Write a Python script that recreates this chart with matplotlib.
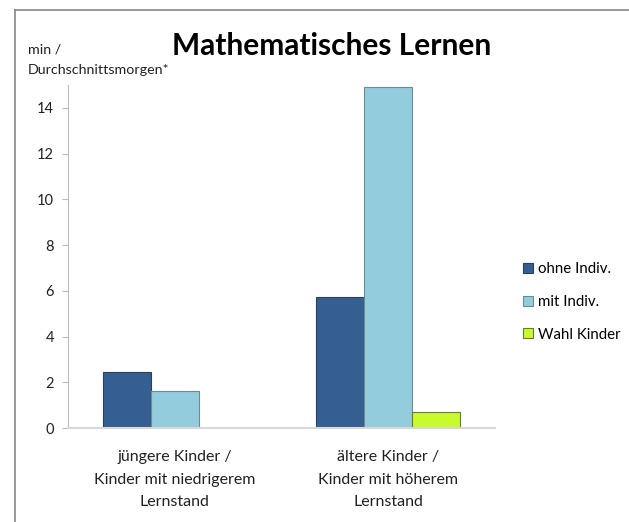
import numpy as np
from matplotlib import pyplot as plt
from matplotlib.lines import Line2D

categories = ['jüngere Kinder /\nKinder mit niedrigerem\nLernstand',
              'ältere Kinder /\nKinder mit höherem\nLernstand']
series = ['ohne Indiv.', 'mit Indiv.', 'Wahl Kinder']
ohne = [2.45, 5.75]
mit = [1.6, 14.9]
wahl = [0.0, 0.7]
colors = ['#365F91', '#93CDDD', '#C8FA2C']
edges = ['#2a3f5a', '#6b8a94', '#6e7a3a']

plt.rcParams['font.family'] = ['Lato', 'DejaVu Sans']

fig = plt.figure(figsize=(6.29, 5.22), dpi=100)
ax = fig.add_axes([0.108, 0.180, 0.679, 0.657])

x = np.arange(len(categories))
w = 0.225
for i, vals in enumerate([ohne, mit, wahl]):
    ax.bar(x + (i - 1) * w, vals, w, color=colors[i], edgecolor=edges[i],
           linewidth=0.8, label=series[i])

ax.set_xlim(-0.5, 1.5)
ax.set_ylim(0, 15)
ax.set_yticks(range(0, 15, 2))
ax.set_xticks(x)
ax.set_xticklabels(categories, fontsize=11.5, linespacing=1.75, color='#222222')
ax.tick_params(axis='x', length=0, pad=16)
ax.tick_params(axis='y', length=4, color='#bbbbbb', labelsize=10.5, labelcolor='#222222', pad=6)
for s in ['top', 'right']:
    ax.spines[s].set_visible(False)
ax.spines['left'].set_color('#bbbbbb')
ax.spines['bottom'].set_color('#d8d8d8')
ax.spines['bottom'].set_linewidth(1.5)

fig.text(0.527, 0.912, 'Mathematisches Lernen', ha='center', va='center',
         fontsize=21.5, fontweight='bold')
fig.text(0.044, 0.905, 'min /', fontsize=10.3, va='center', color='#222222')
fig.text(0.044, 0.866, 'Durchschnittsmorgen*', fontsize=10.3, va='center', color='#222222')

ax.legend(loc='center left', bbox_to_anchor=(1.035, 0.368), frameon=False,
          fontsize=10.8, handlelength=0.65, handleheight=0.65, handletextpad=0.3,
          labelspacing=1.25)

# outer chart frame
fig.add_artist(Line2D([15 / 629, 15 / 629], [0, 1 - 10 / 522], color='#888888', lw=1.2))
fig.add_artist(Line2D([15 / 629, 1], [1 - 10 / 522, 1 - 10 / 522], color='#888888', lw=1.2))

fig.savefig('out.png', dpi=100)
